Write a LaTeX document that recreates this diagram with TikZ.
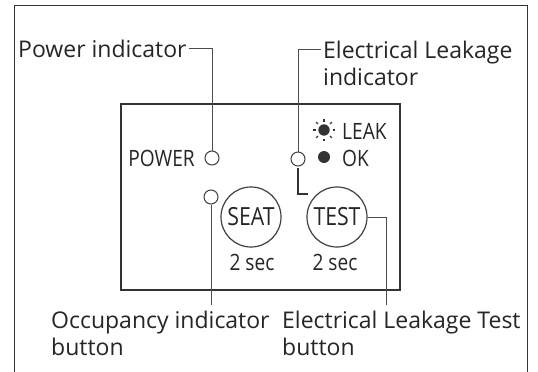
\documentclass[tikz,border=0pt]{standalone}
\usepackage{fontspec}
\setmainfont{Open Sans}
\newfontfamily\panelfont[FakeStretch=0.85]{Open Sans}
\begin{document}
\begin{tikzpicture}[x=1pt, y=-1pt,
    every node/.style={font=\fontsize{23}{27}\selectfont, text=black!85, inner sep=0pt},
    callout/.style={align=left, anchor=north west},
    panel/.style={font=\panelfont\fontsize{22.5}{24}\selectfont},
    led/.style={circle, draw=black!75, line width=1pt, minimum size=14pt},
    btn/.style={circle, draw=black!75, line width=1.2pt, minimum size=60pt, font=\panelfont\fontsize{25}{26}\selectfont},
    lead/.style={draw=black!70, line width=1pt},
    frame/.style={draw=black!80, line width=1.2pt}
]
\path[use as bounding box, fill=white] (0,0) rectangle (538,372);
% Outer frame (open at the bottom)
\draw[frame] (14.7,372) -- (14.7,5.7) -- (527.7,5.7) -- (527.7,372);
% Panel
\draw[frame] (121,104) rectangle (400,290);

% Indicators
\node[panel, anchor=base east] (powertxt) at (195,166) {POWER};
\node[led] (powerled) at (212,158) {};
\node[led] (leakled) at (298,159) {};
\fill[black!80] (324,130) circle (5.7);
\foreach \a in {0,45,...,315}
  \draw[black!80, line width=1.4pt] (324,130) ++(\a:8.5) -- ++(\a:2.5);
\node[panel, anchor=base west] (leaktxt) at (342,139) {LEAK};
\fill[black!80] (324,157) circle (6);
\node[panel, anchor=base west] (oktxt) at (342,166) {OK};
\draw[black!80, line width=1.4pt] ([yshift=-1.5pt]leakled.south) |- ++(10,26);
\node[led] (occled) at (211,197) {};

% Buttons
\node[btn] (seatbtn) at (251,217) {SEAT};
\node[btn] (testbtn) at (337,217) {TEST};
\node[panel, anchor=base] (seatsec) at (252,270) {2 sec};
\node[panel, anchor=base] (testsec) at (335,270) {2 sec};

% Callouts
\node[anchor=base west] (powerlbl) at (18,57) {Power indicator};
\node[callout] (leaklbl) at (323,40.5) {Electrical Leakage\\indicator};
\node[callout] (occlbl) at (51,310.5) {Occupancy indicator\\button};
\node[callout] (testlbl) at (282,310.5) {Electrical Leakage Test\\button};
\coordinate (testend) at (386,305);

\draw[lead] ([xshift=2pt]powerlbl.east) -| (powerled.north);
\draw[lead] ([xshift=-2pt, yshift=-9pt]leaklbl.north west) -| (leakled.north);
\draw[lead] (occled.south) -- ([yshift=6pt]occled.south |- occlbl.north);
\draw[lead] (testbtn.east) -| (testend);
\end{tikzpicture}
\end{document}
